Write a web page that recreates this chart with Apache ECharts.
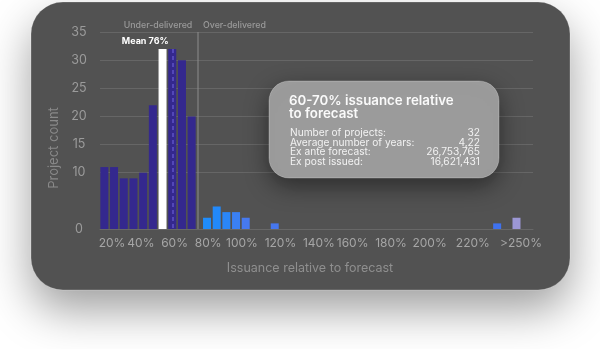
<!DOCTYPE html>
<html><head><meta charset="utf-8">
<script src="https://cdn.jsdelivr.net/npm/echarts@6/dist/echarts.min.js"></script>
<style>html,body{margin:0;padding:0;background:#ffffff;}#c{width:600px;height:349px;}</style>
</head><body><div id="c"></div>
<script>
// ---------- data ----------
const underBins = ['0-10%','10-20%','20-30%','30-40%','40-50%','50-60%','60-70%','70-80%','80-90%','90-100%'];
const underCounts = [11, 11, 9, 9, 10, 22, 32, 32, 30, 20];
const overBins = ['100-105%','105-110%','110-115%','115-120%','120-125%','125-130%','130-135%','135-140%','140-145%','145-150%',
  '150-155%','155-160%','160-165%','165-170%','170-175%','175-180%','180-185%','185-190%','190-195%','195-200%',
  '200-205%','205-210%','210-215%','215-220%','220-225%','225-230%','230-235%','235-240%','240-245%','245-250%',
  '250%','250+%','>250%','—'];
const overCounts = [2, 4, 3, 3, 2, 0, 0, 1, 0, 0,
                    0, 0, 0, 0, 0, 0, 0, 0, 0, 0,
                    0, 0, 0, 0, 0, 0, 0, 0, 0, 0,
                    1, 0, 2, 0];
const xTickLabels = ['20%','40%','60%','80%','100%','120%','140%','160%','180%','200%','220%','>250%'];
const yTickValues = [0, 10, 15, 20, 25, 30, 35];
const highlightBin = 6;      // 60-70%
const meanBin = 7;           // 76% falls in 70-80%
const meanLabel = 'Mean 76%';
const sectionLabels = ['Under-delivered', 'Over-delivered'];
const tooltipTitle = '60-70% issuance relative\nto forecast';
const tooltipRowLabels = ['Number of projects:', 'Average number of years:', 'Ex ante forecast:', 'Ex post issued:'];
const tooltipRowValues = ['32', '4,22', '26,753,765', '16,621,431'];
const xAxisName = 'Issuance relative to forecast';
const yAxisName = 'Project count';

// ---------- layout / style ----------
const FONT = 'Inter, "Noto Sans", sans-serif';
const LABEL_SLOT_COUNT = 90;
const LABEL_SLOTS = [2, 8, 15, 22, 29, 37, 45, 52, 60, 68, 77, 87];
const slotNames = new Array(LABEL_SLOT_COUNT).fill('');
LABEL_SLOTS.forEach((s, i) => { slotNames[s] = xTickLabels[i]; });
const UNDER_COLOR = '#34288e';
const OVER_COLORS = {0:'#1f8cfb',1:'#2289fa',2:'#2a86f7',3:'#3a80f4',4:'#4679ef',7:'#4677ee',30:'#3f72ef',32:'#9c97d5'};
const GRID_TOP = 32, GRID_BOTTOM = 120;

const chart = echarts.init(document.getElementById('c'), null, {renderer: 'canvas'});
chart.setOption({
  animation: false,
  backgroundColor: 'transparent',
  textStyle: {fontFamily: FONT},
  grid: [
    {left: 100, right: 67, top: GRID_TOP, bottom: GRID_BOTTOM},
    {left: 99.5, width: 97, top: GRID_TOP, bottom: GRID_BOTTOM},
    {left: 202.2, width: 328.8, top: GRID_TOP, bottom: GRID_BOTTOM}
  ],
  xAxis: [
    {gridIndex: 0, type: 'category', data: slotNames,
     axisLine: {lineStyle: {color: '#676767'}}, axisTick: {show: false},
     axisLabel: {interval: 0, color: '#a6a6a6', fontSize: 12, margin: 8, fontFamily: FONT},
     name: xAxisName, nameLocation: 'middle', nameGap: 33,
     nameTextStyle: {color: '#8f8f8f', fontSize: 12.5, fontFamily: FONT, padding: [0, 13, 0, 0]}},
    {gridIndex: 1, type: 'category', data: underBins, show: false},
    {gridIndex: 2, type: 'category', data: overBins, show: false}
  ],
  yAxis: [
    {gridIndex: 0, type: 'value', min: 0, max: 35,
     axisLine: {show: false}, axisTick: {show: false, customValues: yTickValues},
     axisLabel: {customValues: yTickValues, color: '#9b9b9b', fontSize: 12.5, align: 'center', margin: 21,
                 padding: [7, 0, 0, 0], fontFamily: FONT},
     splitLine: {lineStyle: {color: '#666666', width: 1}},
     name: yAxisName, nameLocation: 'middle', nameGap: 37,
     nameTextStyle: {color: '#8a8a8a', fontSize: 13, fontFamily: FONT, padding: [0, 35, 0, 0]}},
    {gridIndex: 1, type: 'value', min: 0, max: 35, show: false},
    {gridIndex: 2, type: 'value', min: 0, max: 35, show: false}
  ],
  series: [
    {type: 'line', xAxisIndex: 0, yAxisIndex: 0, data: [], silent: true},
    {type: 'bar', xAxisIndex: 1, yAxisIndex: 1, barWidth: 8, silent: true,
     itemStyle: {color: UNDER_COLOR},
     data: underCounts.map((v, i) => i === highlightBin ? {value: v, itemStyle: {color: '#ffffff'}} : v),
     markLine: {silent: true, symbol: 'none',
       lineStyle: {color: '#5d51c6', type: [4, 3], width: 1.5},
       label: {show: false},
       data: [[{coord: [meanBin, underCounts[meanBin]]}, {coord: [meanBin, 0]}]]},
     markPoint: {silent: true, symbol: 'rect', symbolSize: 0,
       data: [{coord: [meanBin, underCounts[meanBin]],
         label: {show: true, formatter: meanLabel, position: 'top', distance: 3, offset: [-27, 0],
                 color: '#ffffff', fontWeight: 'bold', fontSize: 9, fontFamily: FONT}}]}
    },
    {type: 'bar', xAxisIndex: 2, yAxisIndex: 2, barWidth: 8, silent: true,
     data: overCounts.map((v, i) => ({value: v, itemStyle: {color: OVER_COLORS[i] || '#3f72ef'}}))}
  ],
  graphic: [
    {type: 'rect', silent: true, z: -100,
     shape: {x: 31, y: 2, width: 539, height: 288, r: 32},
     style: {fill: '#525252', stroke: 'rgba(255,255,255,0.22)', lineWidth: 1,
             shadowBlur: 45, shadowOffsetY: 20, shadowColor: 'rgba(0,0,0,0.38)'}},
    {type: 'line', silent: true, z: 5,
     shape: {x1: 198, y1: 32, x2: 198, y2: 229},
     style: {stroke: '#8c8c8c', lineWidth: 1}},
    {type: 'text', silent: true, z: 5, x: 158, y: 25,
     style: {text: sectionLabels[0], fill: '#9a9a9a', font: '500 8.8px ' + FONT, textAlign: 'center', textVerticalAlign: 'middle'}},
    {type: 'text', silent: true, z: 5, x: 203, y: 25,
     style: {text: sectionLabels[1], fill: '#9a9a9a', font: '500 8.8px ' + FONT, textAlign: 'left', textVerticalAlign: 'middle'}},
    {type: 'group', z: 100, children: [
      {type: 'rect', silent: true, z: 100,
       shape: {x: 269, y: 81, width: 230, height: 97, r: 20},
       style: {fill: '#9b9b9b', stroke: 'rgba(255,255,255,0.25)', lineWidth: 1,
               shadowBlur: 24, shadowOffsetY: 8, shadowColor: 'rgba(0,0,0,0.45)'}},
      {type: 'text', silent: true, z: 101, x: 289, y: 94,
       style: {text: tooltipTitle, fill: '#fafafa', font: '600 13.3px ' + FONT, lineHeight: 13, textAlign: 'left', textVerticalAlign: 'top'}},
      {type: 'text', silent: true, z: 101, x: 290, y: 128,
       style: {text: tooltipRowLabels.join('\n'), fill: '#f2f2f2', font: '10.2px ' + FONT, lineHeight: 9.7, textAlign: 'left', textVerticalAlign: 'top'}},
      {type: 'text', silent: true, z: 101, x: 480, y: 128,
       style: {text: tooltipRowValues.join('\n'), fill: '#f2f2f2', font: '10.2px ' + FONT, lineHeight: 9.7, textAlign: 'right', textVerticalAlign: 'top'}}
    ]}
  ]
});
</script></body></html>
